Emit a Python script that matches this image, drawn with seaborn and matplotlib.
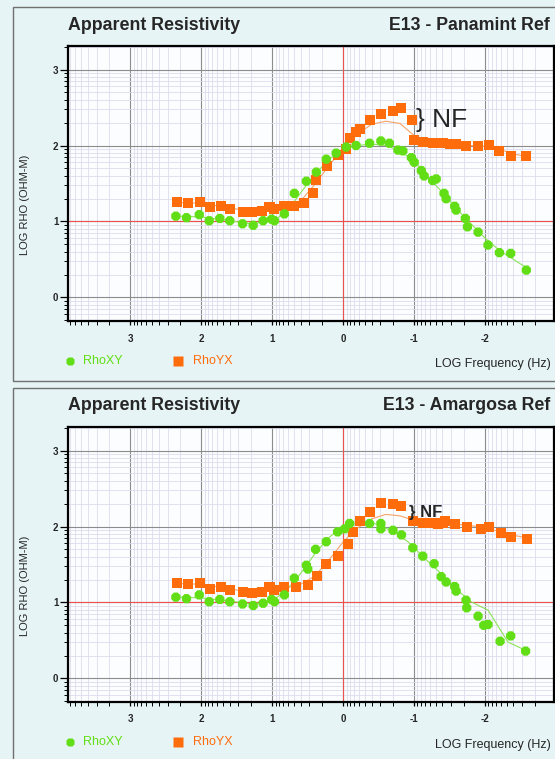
import numpy as np
import pandas as pd
import matplotlib
matplotlib.use('Agg')
import matplotlib.pyplot as plt
from matplotlib.lines import Line2D
from matplotlib.patches import Rectangle
import seaborn as sns

sns.set_style('white')
plt.rcParams['font.family'] = ['Liberation Sans', 'DejaVu Sans']

GREEN = '#62de16'
ORANGE = '#ff6c0c'

# ---- E13 - Panamint Ref (top) ----
pan_xy_f = [2.36, 2.21, 2.03, 1.89, 1.74, 1.60, 1.42, 1.27, 1.13, 1.01, 0.97, 0.83, 0.69, 0.52,
            0.38, 0.24, 0.10, -0.04, -0.18, -0.37, -0.53, -0.65, -0.77, -0.84, -0.96, -1.00,
            -1.10, -1.14, -1.26, -1.31, -1.42, -1.45, -1.57, -1.59, -1.72, -1.75, -1.90, -2.04,
            -2.20, -2.36, -2.58]
pan_xy = [1.07, 1.05, 1.09, 1.01, 1.04, 1.01, 0.97, 0.95, 1.01, 1.03, 1.01, 1.10, 1.37, 1.53,
          1.65, 1.82, 1.90, 1.98, 2.00, 2.03, 2.06, 2.03, 1.94, 1.93, 1.84, 1.78,
          1.67, 1.60, 1.54, 1.56, 1.37, 1.30, 1.20, 1.15, 1.04, 0.93, 0.86, 0.69,
          0.59, 0.58, 0.36]
pan_yx_f = [2.35, 2.19, 2.02, 1.88, 1.73, 1.59, 1.42, 1.28, 1.15, 1.04, 0.97, 0.83, 0.69, 0.55,
            0.43, 0.38, 0.23, 0.08, -0.04, -0.10, -0.18, -0.24, -0.37, -0.53, -0.70, -0.82,
            -0.97, -1.00, -1.12, -1.26, -1.40, -1.50, -1.59, -1.73, -1.90, -2.06, -2.20, -2.36,
            -2.58]
pan_yx = [1.26, 1.245, 1.26, 1.19, 1.21, 1.17, 1.13, 1.12, 1.14, 1.19, 1.17, 1.20, 1.20, 1.24,
          1.37, 1.54, 1.73, 1.87, 1.96, 2.10, 2.18, 2.22, 2.34, 2.42, 2.46, 2.50,
          2.33, 2.07, 2.05, 2.03, 2.03, 2.02, 2.02, 1.99, 2.00, 2.01, 1.93, 1.86,
          1.86]
pan_fit_f = [2.35, 2.0, 1.6, 1.3, 1.0, 0.8, 0.6, 0.4, 0.2, 0.0, -0.2, -0.4, -0.6, -0.8, -1.0,
             -1.2, -1.4, -1.6, -1.8, -2.0, -2.2, -2.4, -2.6]
pan_xy_fit = [1.07, 1.06, 1.01, 0.97, 1.01, 1.12, 1.38, 1.62, 1.82, 1.95, 2.00, 2.02, 2.00,
              1.93, 1.80, 1.58, 1.38, 1.16, 0.97, 0.78, 0.62, 0.50, 0.38]
pan_yx_fit = [1.25, 1.24, 1.18, 1.13, 1.15, 1.19, 1.27, 1.49, 1.74, 1.96, 2.15, 2.28, 2.32,
              2.29, 2.13, 2.05, 2.03, 2.02, 2.00, 1.99, 1.95, 1.89, 1.85]

# ---- E13 - Amargosa Ref (bottom) ----
ama_xy_f = [2.36, 2.21, 2.03, 1.89, 1.74, 1.60, 1.42, 1.27, 1.13, 1.01, 0.97, 0.83, 0.69, 0.52,
            0.50, 0.39, 0.24, 0.08, -0.02, -0.09, -0.37, -0.53, -0.53, -0.70, -0.82, -0.98,
            -1.12, -1.28, -1.38, -1.45, -1.57, -1.59, -1.73, -1.74, -1.90, -1.98, -2.04, -2.21,
            -2.36, -2.57]
ama_xy = [1.07, 1.05, 1.10, 1.01, 1.04, 1.01, 0.98, 0.96, 0.99, 1.04, 1.01, 1.10, 1.32, 1.49,
          1.44, 1.70, 1.80, 1.93, 1.97, 2.04, 2.04, 2.04, 1.97, 1.95, 1.89, 1.72,
          1.61, 1.51, 1.34, 1.27, 1.21, 1.15, 1.03, 0.93, 0.82, 0.70, 0.71, 0.49,
          0.56, 0.36]
ama_yx_f = [2.35, 2.19, 2.02, 1.88, 1.73, 1.59, 1.42, 1.28, 1.15, 1.04, 0.97, 0.83, 0.66, 0.50,
            0.37, 0.24, 0.08, -0.06, -0.14, -0.23, -0.38, -0.53, -0.70, -0.82, -0.98, -1.12,
            -1.26, -1.33, -1.40, -1.44, -1.57, -1.75, -1.94, -2.06, -2.22, -2.36, -2.59]
ama_yx = [1.26, 1.24, 1.26, 1.18, 1.21, 1.17, 1.14, 1.12, 1.14, 1.21, 1.17, 1.21, 1.20, 1.23,
          1.35, 1.51, 1.61, 1.77, 1.93, 2.07, 2.19, 2.31, 2.29, 2.27, 2.07, 2.04,
          2.05, 2.03, 2.04, 2.07, 2.03, 1.99, 1.97, 2.00, 1.92, 1.86, 1.84]
ama_fit_f = [2.35, 2.0, 1.6, 1.3, 1.0, 0.69, 0.40, 0.22, 0.03, -0.25, -0.44, -0.72, -0.91,
             -1.15, -1.38, -1.61, -1.80, -1.95, -2.04, -2.32, -2.57]
ama_xy_fit = [1.07, 1.06, 1.02, 0.98, 1.01, 1.27, 1.64, 1.84, 1.99, 2.06, 2.04, 1.93, 1.80,
              1.58, 1.38, 1.16, 1.01, 0.94, 0.90, 0.48, 0.37]
ama_fit2_f = [2.35, 2.0, 1.6, 1.3, 1.0, 0.8, 0.6, 0.45, 0.3, 0.15, 0.0, -0.2, -0.4, -0.6, -0.8,
              -1.0, -1.3, -1.6, -1.9, -2.1, -2.3, -2.6]
ama_yx_fit = [1.25, 1.24, 1.18, 1.13, 1.15, 1.19, 1.24, 1.32, 1.45, 1.62, 1.80, 1.98, 2.10,
              2.16, 2.14, 2.08, 2.05, 2.03, 2.00, 1.96, 1.90, 1.85]

W, H = 555, 759
fig = plt.figure(figsize=(W / 100, H / 100), dpi=100, facecolor='#e6f4f5')


def fx(px):
    return px / W


def fy(py):
    return 1 - py / H


minors = [n + np.log10(k) for n in range(-3, 4) for k in range(2, 10)]


def panel(dy, title, xy_f, xy, yx_f, yx, fxy_f, fxy, fyx_f, fyx, nf_xy, nf_size, nf_weight):
    fig.add_artist(Rectangle((fx(13), fy(381 + dy)), 1.2, fy(7 + dy) - fy(381 + dy),
                             transform=fig.transFigure, fill=False,
                             edgecolor='#707070', lw=1.0))
    ax = fig.add_axes([fx(68), fy(321 + dy), fx(554) - fx(68), fy(46 + dy) - fy(321 + dy)])
    ax.set_facecolor('#fbfdfe')
    ax.set_axisbelow(True)

    sns.lineplot(x=fxy_f, y=fxy, ax=ax, color='#8ee45a', lw=0.8, zorder=2)
    sns.lineplot(x=fyx_f, y=fyx, ax=ax, color='#f7a468', lw=0.8, zorder=2)
    sns.scatterplot(x=yx_f, y=yx, ax=ax, marker='s', s=52, color=ORANGE,
                    edgecolor='none', zorder=3)
    sns.scatterplot(x=xy_f, y=xy, ax=ax, marker='8', s=52, color=GREEN,
                    edgecolor='none', zorder=4)

    ax.set_xlim(3.88, -2.97)
    ax.set_ylim(-0.31, 3.31)
    ax.set_xticks([3, 2, 1, 0, -1, -2])
    ax.set_xticklabels(['3', '2', '1', '0', '-1', '-2'], fontweight='bold')
    ax.set_yticks([0, 1, 2, 3])
    ax.set_yticklabels(['0', '1', '2', '3'], fontweight='bold')
    ax.set_xticks([m for m in minors if -2.97 < m < 3.88], minor=True)
    ax.set_yticks([m for m in minors if -0.31 < m < 3.31], minor=True)
    ax.tick_params(axis='both', which='both', bottom=True, left=True, top=False, right=False)
    ax.tick_params(axis='y', which='major', direction='out', length=5.5, width=0.9,
                   labelsize=7, pad=1.5, color='black')
    ax.tick_params(axis='x', which='major', direction='out', length=3, width=0.9,
                   labelsize=7, pad=6, color='black')
    ax.tick_params(which='minor', direction='out', length=3, width=0.7, color='black')
    ax.grid(which='minor', color='#dcdcee', lw=0.6)
    ax.grid(which='major', color='#8c8c8c', lw=0.8)
    ax.axhline(1, color='#ee5050', lw=0.8, zorder=1)
    ax.axvline(0, color='#ee5050', lw=0.8, zorder=1)
    for s in ['left', 'bottom', 'top', 'right']:
        ax.spines[s].set_color('black')
        ax.spines[s].set_linewidth(1.6)
    ax.set_xlabel('')
    ax.set_ylabel('')

    ax.text(nf_xy[0], nf_xy[1], '} NF', fontsize=nf_size, fontweight=nf_weight,
            va='center', ha='left', zorder=5)

    fig.text(fx(68), fy(25 + dy), 'Apparent Resistivity', fontsize=12.8,
             fontweight='bold', va='center', ha='left')
    fig.text(fx(550), fy(25 + dy), title, fontsize=12.8, fontweight='bold',
             va='center', ha='right')
    fig.text(fx(25), fy(205 + dy), 'LOG RHO (OHM-M)', fontsize=8, rotation=90,
             va='center', ha='center')

    fig.add_artist(Line2D([fx(70)], [fy(361 + dy)], marker='8', ms=7, color=GREEN,
                          mec='none', transform=fig.transFigure))
    fig.text(fx(83), fy(361 + dy), 'RhoXY', fontsize=9, color=GREEN, va='center')
    fig.add_artist(Line2D([fx(178)], [fy(361 + dy)], marker='s', ms=7, color=ORANGE,
                          mec='none', transform=fig.transFigure))
    fig.text(fx(193), fy(361 + dy), 'RhoYX', fontsize=9, color=ORANGE, va='center')
    fig.text(fx(551), fy(364 + dy), 'LOG Frequency (Hz)', fontsize=9, va='center',
             ha='right')
    return ax


panel(0, 'E13 - Panamint Ref', pan_xy_f, pan_xy, pan_yx_f, pan_yx,
      pan_fit_f, pan_xy_fit, pan_fit_f, pan_yx_fit, (-1.03, 2.33), 19, 'normal')
panel(381, 'E13 - Amargosa Ref', ama_xy_f, ama_xy, ama_yx_f, ama_yx,
      ama_fit_f, ama_xy_fit, ama_fit2_f, ama_yx_fit, (-0.93, 2.19), 12, 'bold')

fig.savefig('out.png', dpi=100, facecolor=fig.get_facecolor())
